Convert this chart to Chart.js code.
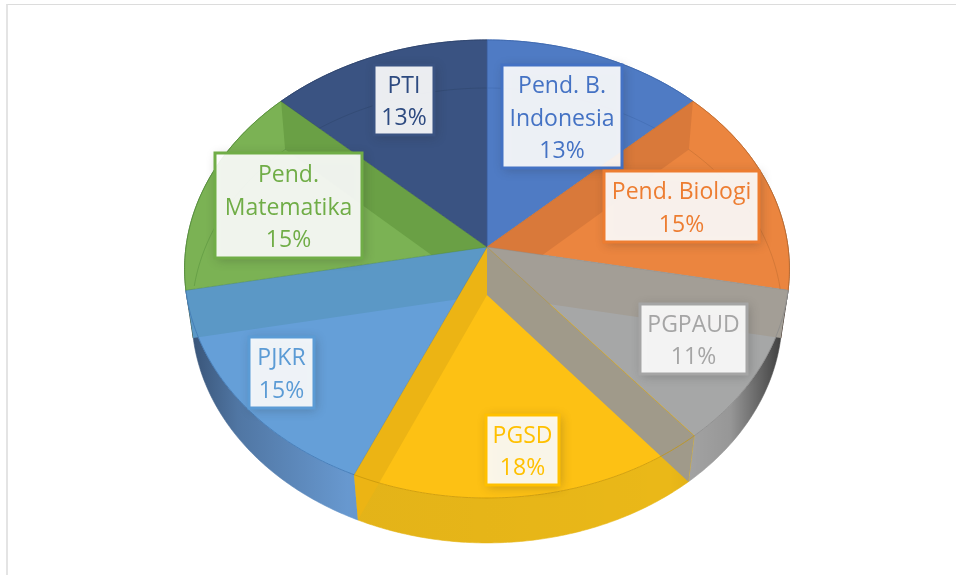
<!DOCTYPE html>
<html>
<head>
<meta charset="utf-8">
<style>
html,body{margin:0;padding:0;background:#fff;width:956px;height:575px;overflow:hidden}
#frame{position:absolute;left:6px;top:4px;width:950px;height:571px;border-top:1px solid #dcdcdc;border-left:2px solid #e4e4e4;box-sizing:border-box}
#wrap{position:absolute;left:0;top:0;width:956px;height:575px}
</style>
</head>
<body>
<div id="frame"></div>
<div id="wrap"><canvas id="c" width="956" height="575"></canvas></div>
<script src="https://cdn.jsdelivr.net/npm/chart.js@4/dist/chart.umd.min.js"></script>
<script>
// ---- data ----
const categories = [['Pend. B.','Indonesia'],['Pend. Biologi'],['PGPAUD'],['PGSD'],['PJKR'],['Pend.','Matematika'],['PTI']];
const values = [13, 15, 11, 17.6, 15.4, 15, 13];

// ---- styles ----
const floorColors = ['#4f7bc4','#eb853f','#a6a7a7','#fdc114','#659fd8','#7bb254','#3a5382'];
const sideColors  = ['#4f7bc4','#eb853f','#a8a8a8','#eab818','#6a9cd4','#7bb254','#3a5382'];
const textColors  = ['#4472c4','#ed7d31','#a5a5a5','#ffc000','#5b9bd5','#70ad47','#2d4a80'];
const rimColors   = ['#3b64a8','#b5682f','#8a8a8a','#c4960c','#3f76b0','#4f8a36','#2c4268'];
// walls stand on the slice boundaries: [slice whose start angle is used, colour], in paint order
const walls = [[6,'#6aa045'],[1,'#d9793a'],[2,'#a39e96'],[5,'#5b98c6'],[4,'#ecb414'],[3,'#a09a8a']];
// label boxes: left, top, right, bottom
const labelBoxes = [[502,65,622,168],[604,171,759,242],[640,304,747,374],[486,415,559,485],[249,337,314,408],[215,153,362,258],[374,65,434,135]];
const lineGap = 32.5;
const labelFont = '23px "Open Sans"';
// projection planes: top surface and floor of the glass pie (perspective foreshortening)
const planes = [
  {cy:247, rx:301, ay:226.9, c:-0.096},
  {cy:295, rx:294, ay:225.6, c:-0.090}
];
const pieCx = 487;

function pt(a, r, p){
  const u = Math.cos(a)*r, v = Math.sin(a)*r, d = 1 + p.c*v;
  return [pieCx + p.rx*u/d, p.cy + p.ay*v/d];
}
function rimPath(ctx, a0, a1, p, move){
  const n = Math.max(2, Math.ceil(Math.abs(a1-a0)/0.01));
  for(let i=0;i<=n;i++){
    const q = pt(a0+(a1-a0)*i/n, 1, p);
    if(i===0 && move) ctx.moveTo(q[0],q[1]); else ctx.lineTo(q[0],q[1]);
  }
}
function wedgePath(ctx, arc, p){
  const c = pt(0,0,p);
  ctx.beginPath();
  ctx.moveTo(c[0],c[1]);
  rimPath(ctx, arc.startAngle, arc.endAngle, p, false);
  ctx.closePath();
}

const glassPie = {
  id:'glassPie',
  beforeDatasetsDraw(chart){
    const ctx = chart.ctx, arcs = chart.getDatasetMeta(0).data;
    const [P0,P1] = planes;
    ctx.save();
    // outer side wall
    arcs.forEach((arc,i)=>{
      ctx.beginPath();
      rimPath(ctx, arc.startAngle, arc.endAngle, P0, true);
      rimPath(ctx, arc.endAngle, arc.startAngle, P1, false);
      ctx.closePath();
      ctx.fillStyle = sideColors[i];
      ctx.fill();
      ctx.strokeStyle = sideColors[i];
      ctx.lineWidth = 0.6;
      ctx.stroke();
    });
    // side shading, only on what is painted so far
    const g = ctx.createLinearGradient(pieCx-304,0,pieCx+304,0);
    g.addColorStop(0,'rgba(20,30,50,.62)');
    g.addColorStop(0.09,'rgba(20,30,50,.30)');
    g.addColorStop(0.27,'rgba(20,30,50,.03)');
    g.addColorStop(0.80,'rgba(0,0,0,0)');
    g.addColorStop(0.90,'rgba(0,0,0,.10)');
    g.addColorStop(1,'rgba(0,0,0,.72)');
    ctx.globalCompositeOperation='source-atop';
    ctx.fillStyle=g;
    ctx.fillRect(0,0,chart.width,chart.height);
    ctx.globalCompositeOperation='source-over';
    // top surface
    arcs.forEach((arc,i)=>{
      wedgePath(ctx,arc,P0);
      ctx.fillStyle=floorColors[i];
      ctx.fill();
      ctx.strokeStyle=floorColors[i];
      ctx.lineWidth=0.5;
      ctx.stroke();
    });
    // floor rim seen through the top, at the back
    arcs.forEach((arc,i)=>{
      const a0=arc.startAngle, a1=arc.endAngle;
      ctx.beginPath();
      for(const [s,e] of [[a0,a1],[a0+2*Math.PI,a1+2*Math.PI],[a0-2*Math.PI,a1-2*Math.PI]]){
        const from=Math.max(s,Math.PI+0.04), to=Math.min(e,2*Math.PI);
        if(to>from) rimPath(ctx,from,to,P1,true);
      }
      ctx.strokeStyle=rimColors[i];
      ctx.globalAlpha=.55;
      ctx.lineWidth=0.8;
      ctx.stroke();
      ctx.globalAlpha=1;
    });
    // radial walls
    walls.forEach(([idx,color])=>{
      const a=arcs[idx].startAngle;
      const c0=pt(a,0,P0), r0=pt(a,1,P0), r1=pt(a,1,P1), c1=pt(a,0,P1);
      ctx.beginPath();
      ctx.moveTo(c0[0],c0[1]);ctx.lineTo(r0[0],r0[1]);ctx.lineTo(r1[0],r1[1]);ctx.lineTo(c1[0],c1[1]);
      ctx.closePath();
      ctx.fillStyle=color;
      ctx.fill();
    });
    // radial edges and top rim
    arcs.forEach((arc,i)=>{
      ctx.beginPath();
      rimPath(ctx,arc.startAngle,arc.endAngle,P0,true);
      ctx.strokeStyle=rimColors[i];
      ctx.globalAlpha=.75;
      ctx.lineWidth=1;
      ctx.stroke();
      const c0=pt(0,0,P0), r0=pt(arc.startAngle,1,P0);
      ctx.beginPath();ctx.moveTo(c0[0],c0[1]);ctx.lineTo(r0[0],r0[1]);
      ctx.strokeStyle=rimColors[i];
      ctx.globalAlpha=.4;
      ctx.stroke();
      ctx.globalAlpha=1;
    });
    ctx.restore();
    return false;
  },
  afterDraw(chart){
    const ctx=chart.ctx, total=values.reduce((a,b)=>a+b,0);
    ctx.save();
    labelBoxes.forEach((b,i)=>{
      const [l,t,r,bt]=b, w=r-l, h=bt-t;
      ctx.save();
      ctx.shadowColor='rgba(40,40,40,.30)';
      ctx.shadowBlur=10;
      ctx.shadowOffsetX=2;
      ctx.shadowOffsetY=2;
      ctx.fillStyle='rgba(255,255,255,.9)';
      ctx.fillRect(l,t,w,h);
      ctx.restore();
      ctx.strokeStyle=i===6?'#3a5382':textColors[i];
      ctx.lineWidth=3;
      ctx.strokeRect(l,t,w,h);
      const lines=[...categories[i], Math.round(values[i]/total*100)+'%'];
      ctx.fillStyle=textColors[i];
      ctx.font=labelFont;
      ctx.textAlign='center';
      ctx.textBaseline='middle';
      const cx=(l+r)/2, cy=(t+bt)/2+2.5, y0=cy-(lines.length-1)*lineGap/2;
      lines.forEach((s,k)=>ctx.fillText(s,cx,y0+k*lineGap));
    });
    ctx.restore();
  }
};

new Chart(document.getElementById('c'),{
  type:'pie',
  data:{labels:categories.map(c=>c.join(' ')),datasets:[{data:values,backgroundColor:floorColors,borderWidth:0}]},
  options:{
    responsive:false,
    animation:false,
    layout:{padding:{left:18,bottom:81}},
    plugins:{legend:{display:false},tooltip:{enabled:false}}
  },
  plugins:[glassPie]
});
</script>
</body>
</html>
